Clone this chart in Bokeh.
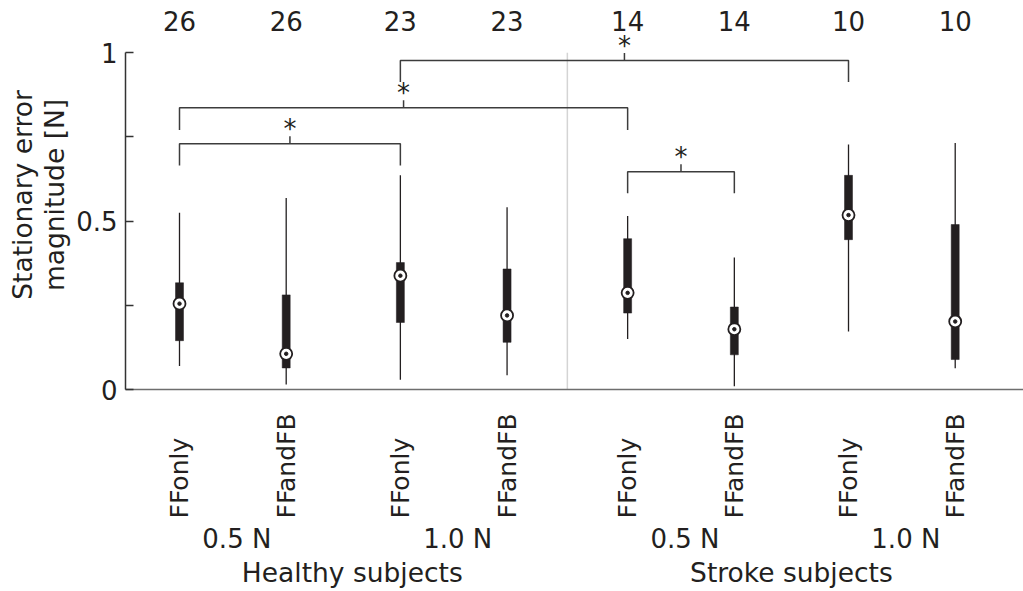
import numpy as np
from bokeh.plotting import figure
from bokeh.layouts import column
from bokeh.models import Range1d, FixedTicker, ColumnDataSource
from bokeh.core.properties import value
from bokeh.embed import file_html
from bokeh.resources import INLINE

# ---------------- data ----------------
conditions = ["FFonly", "FFandFB", "FFonly", "FFandFB", "FFonly", "FFandFB", "FFonly", "FFandFB"]
force_levels = ["0.5 N", "1.0 N", "0.5 N", "1.0 N"]
groups = ["Healthy subjects", "Stroke subjects"]
n_subjects = [26, 26, 23, 23, 14, 14, 10, 10]
positions = [1, 2, 3.07, 4.07, 5.2, 6.2, 7.27, 8.27]
whisker_low = [0.070, 0.015, 0.029, 0.042, 0.150, 0.010, 0.172, 0.063]
q1 = [0.145, 0.064, 0.199, 0.140, 0.227, 0.103, 0.445, 0.089]
median = [0.255, 0.106, 0.338, 0.220, 0.287, 0.179, 0.518, 0.202]
q3 = [0.317, 0.281, 0.377, 0.358, 0.448, 0.245, 0.636, 0.490]
whisker_high = [0.525, 0.569, 0.636, 0.541, 0.515, 0.392, 0.728, 0.732]
sig_pairs = [(0, 2), (0, 4), (2, 6), (4, 5)]
sig_level = [0.730, 0.837, 0.977, 0.647]
sig_leg_end = [0.665, 0.771, 0.913, 0.583]

# ---------------- geometry ----------------
W, H = 1023, 591
FRAME_LEFT = 125
FRAME_BOTTOM = 389
MAIN_H = 409
PX_X = 106.7
PX_Y = 336.7
X0_PX = 179

def xd(px):
    return 1 + (px - X0_PX) / PX_X

def yd(py):
    return (FRAME_BOTTOM - py) / PX_Y

FONT = "DejaVu Sans"
TXT = "#231f20"
FS = "26px"
FS_BIG = "26.5px"
FS_ROT = "25px"

xr = Range1d(xd(FRAME_LEFT), xd(W))

p = figure(width=W, height=MAIN_H, output_backend="svg", toolbar_location=None,
           x_range=xr, y_range=Range1d(0, yd(0)))
p.min_border_left = FRAME_LEFT
p.min_border_right = 0
p.min_border_top = 0
p.min_border_bottom = MAIN_H - FRAME_BOTTOM
p.outline_line_color = None
p.xgrid.visible = False
p.ygrid.visible = False
p.background_fill_color = "white"
p.border_fill_color = "white"

# y axis
ya = p.yaxis[0]
ya.ticker = FixedTicker(ticks=[0, 0.5, 1], minor_ticks=[0.25, 0.75])
ya.bounds = (0, 1)
ya.major_tick_in = 8
ya.major_tick_out = 0
ya.minor_tick_in = 8
ya.minor_tick_out = 0
ya.axis_line_color = "#333333"
ya.axis_line_width = 1.5
ya.major_tick_line_color = "#333333"
ya.minor_tick_line_color = "#333333"
ya.major_tick_line_width = 1.5
ya.minor_tick_line_width = 1.5
ya.major_label_text_font = FONT
ya.major_label_text_font_size = FS
ya.major_label_text_color = TXT
ya.major_label_standoff = 8
ya.major_label_overrides = {0: "0", 0.5: "0.5", 1: "1"}
ya.axis_label = "Stationary error\nmagnitude [N]"
ya.axis_label_text_font = FONT
ya.axis_label_text_font_size = FS_BIG
ya.axis_label_text_font_style = "normal"
ya.axis_label_text_color = TXT
ya.axis_label_standoff = 3
ya.axis_label_text_line_height = 1.05

# x axis (just the gray base line)
xa = p.xaxis[0]
xa.ticker = FixedTicker(ticks=[])
xa.major_tick_in = 0
xa.major_tick_out = 0
xa.minor_tick_in = 0
xa.minor_tick_out = 0
xa.axis_line_color = "#6e6e6e"
xa.axis_line_width = 1.5
xa.major_label_text_font_size = "0px"

# separator between healthy and stroke groups
sep_x = (positions[3] + positions[4]) / 2
p.segment(x0=[sep_x], y0=[0], x1=[sep_x], y1=[1], line_color="#d4d4d4", line_width=1.5)

src = ColumnDataSource(dict(x=positions, lo=whisker_low, q1=q1, med=median, q3=q3,
                            hi=whisker_high, n=[str(v) for v in n_subjects],
                            cond=conditions))

# whiskers
p.segment(x0="x", y0="lo", x1="x", y1="hi", source=src, line_color="#231f20", line_width=1.3)
# boxes
p.vbar(x="x", bottom="q1", top="q3", width=8 / PX_X, source=src,
       fill_color="#231f20", line_color="#231f20", line_width=0.5)
# medians
p.scatter(x="x", y="med", source=src, marker="circle", size=12,
          fill_color="white", line_color="#231f20", line_width=1.8)
p.scatter(x="x", y="med", source=src, marker="circle", size=3.5,
          fill_color="#231f20", line_color="#231f20")

# significance brackets
tick_h = 7.5 / PX_Y
bx, by, sx, sy = [], [], [], []
for (a, b), lvl, leg in zip(sig_pairs, sig_level, sig_leg_end):
    xl, xr_ = positions[a], positions[b]
    xm = (xl + xr_) / 2
    bx.append([xl, xl, xr_, xr_])
    by.append([leg, lvl, lvl, leg])
    bx.append([xm, xm])
    by.append([lvl, lvl + tick_h])
    sx.append(xm)
    sy.append(lvl + tick_h + 7.5 / PX_Y)
p.multi_line(xs=bx, ys=by, line_color="#3c3c3c", line_width=1.5)
p.text(x=sx, y=sy, text=["*"] * len(sx), text_font=value(FONT), text_font_size="26px",
       text_color=TXT, text_align="center", text_baseline="alphabetic")

# subject counts on top
p.text(x="x", y=yd(20), text="n", source=src, text_font=value(FONT), text_font_size=FS,
       text_color=TXT, text_align="center", text_baseline="middle")

# ---------------- label strip below (page pixel y coordinates) ----------------
q = figure(width=W, height=H - MAIN_H, output_backend="svg", toolbar_location=None,
           x_range=xr, y_range=Range1d(H, MAIN_H), x_axis_type=None, y_axis_type=None)
q.min_border_left = FRAME_LEFT
q.min_border_right = 0
q.min_border_top = 0
q.min_border_bottom = 0
q.outline_line_color = None
q.xgrid.visible = False
q.ygrid.visible = False
q.border_fill_color = "white"
q.background_fill_color = "white"

q.text(x="x", y=518, text="cond", source=src, angle=np.pi / 2,
       text_font=value(FONT), text_font_size=FS_ROT, text_color=TXT,
       text_align="left", text_baseline="middle")

fx = [(positions[2 * i] + positions[2 * i + 1]) / 2 + 4 / PX_X for i in range(4)]
fsrc = ColumnDataSource(dict(x=fx, t=force_levels))
q.text(x="x", y=538, text="t", source=fsrc, text_font=value(FONT),
       text_font_size=FS, text_color=TXT, text_align="center", text_baseline="middle")

gx = [(positions[0] + positions[3]) / 2 + 9 / PX_X, (positions[4] + positions[7]) / 2]
gsrc = ColumnDataSource(dict(x=gx, t=groups))
q.text(x="x", y=572, text="t", source=gsrc, text_font=value(FONT),
       text_font_size=FS_BIG, text_color=TXT, text_align="center", text_baseline="middle")

layout = column(p, q, spacing=0)
open("out.html", "w").write(file_html(layout, INLINE))
